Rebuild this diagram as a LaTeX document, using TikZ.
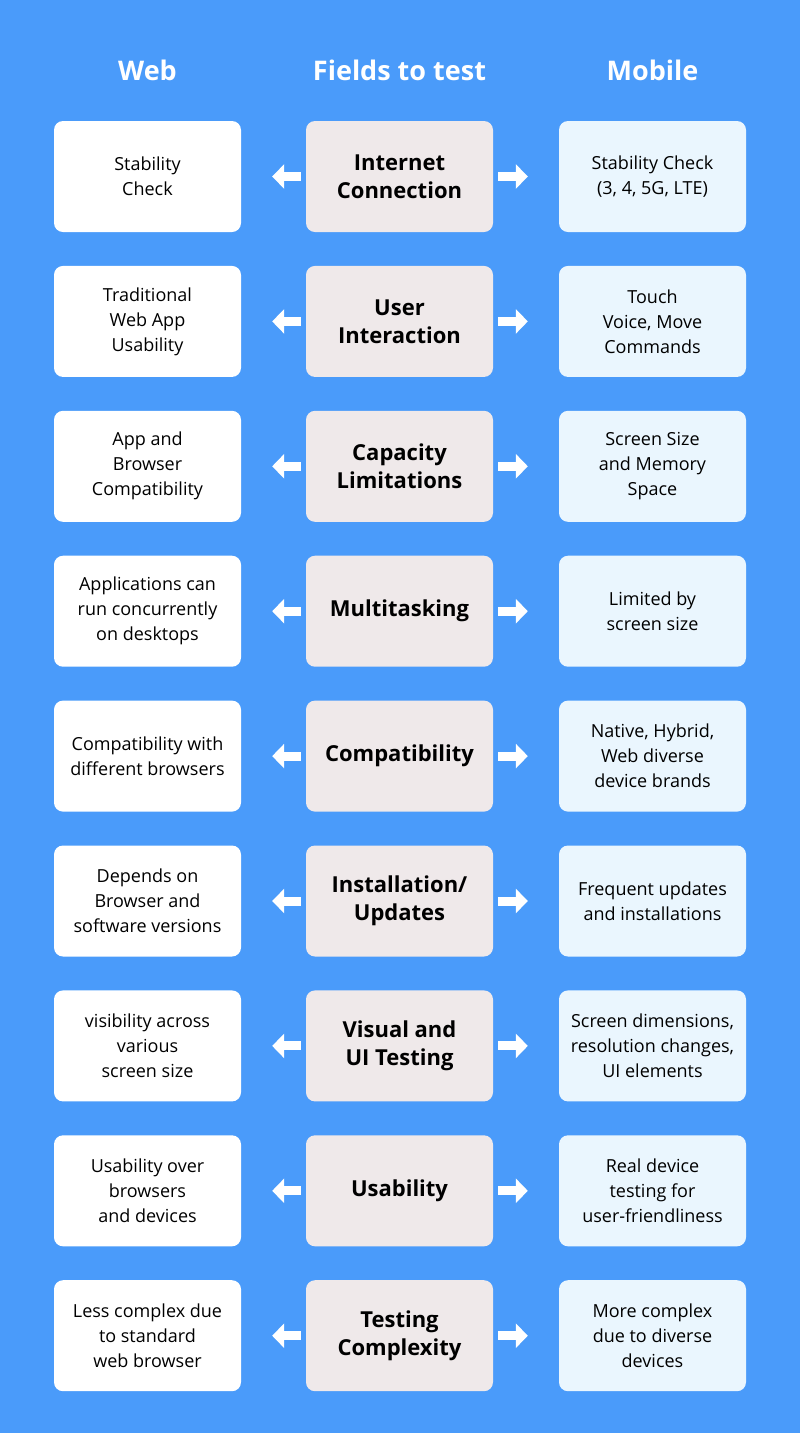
\documentclass[tikz,border=0pt]{standalone}
\usepackage{fontspec}
\setmainfont{Open Sans}
\usetikzlibrary{arrows.meta}
\definecolor{bg}{HTML}{4A9BFA}
\definecolor{mid}{HTML}{EFE9EA}
\definecolor{mob}{HTML}{EAF6FE}
\tikzset{
  box/.style={rounded corners=9pt, minimum width=187pt, minimum height=111pt,
    align=center, inner sep=2pt, font=\fontsize{18}{25}\selectfont},
  head/.style={white, font=\fontsize{27}{30}\selectfont\bfseries},
  pt/.style={line width=9pt, white, -{Triangle[length=12pt,width=24pt]},
    shorten <=5pt, shorten >=31pt}
}
\begin{document}
\begin{tikzpicture}[x=1pt,y=-1pt]
  \fill[bg] (0,0) rectangle (800,1433);
  \useasboundingbox (0,0) rectangle (800,1433);

  \node[head] (web) at (147.5,70) {Web};
  \node[head] (fields) at (399.5,70) {Fields to test};
  \node[head] (mobile) at (652.5,70) {Mobile};

  \foreach \i/\l/\m/\r in {
      0/{Stability\\Check}/{Internet\\Connection}/{Stability Check\\(3, 4, 5G, LTE)},
      1/{Traditional\\Web App\\Usability}/{User\\Interaction}/{Touch\\Voice, Move\\Commands},
      2/{App and\\Browser\\Compatibility}/{Capacity\\Limitations}/{Screen Size\\and Memory\\Space},
      3/{Applications can\\run concurrently\\on desktops}/{Multitasking}/{Limited by\\screen size},
      4/{Compatibility with\\different browsers}/{Compatibility}/{Native, Hybrid,\\Web diverse\\device brands},
      5/{Depends on\\Browser and\\software versions}/{Installation/\\Updates}/{Frequent updates\\and installations},
      6/{visibility across\\various\\screen size}/{Visual and\\UI Testing}/{Screen dimensions,\\resolution changes,\\UI elements},
      7/{Usability over\\browsers\\and devices}/{Usability}/{Real device\\testing for\\user-friendliness},
      8/{Less complex due\\to standard\\web browser}/{Testing\\Complexity}/{More complex\\due to diverse\\devices}}
  {
    \node[box, fill=white] (w\i) at (147.5,176.5+144.9*\i) {\l};
    \node[box, fill=mid, font=\fontsize{22}{28}\selectfont\bfseries] (f\i) at (399.5,176.5+144.9*\i) {\m};
    \node[box, fill=mob] (m\i) at (652.5,176.5+144.9*\i) {\r};
    \draw[pt] (f\i.west) -- (w\i.east);
    \draw[pt] (f\i.east) -- (m\i.west);
  }
\end{tikzpicture}
\end{document}
